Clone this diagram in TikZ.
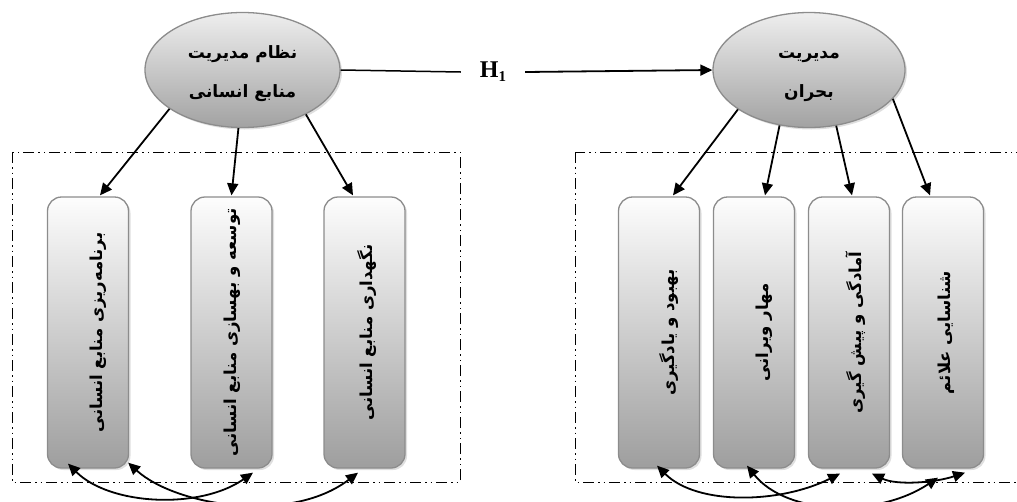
\documentclass[tikz,border=0pt]{standalone}
\usepackage{fontspec}
\setmainfont{DejaVu Sans}
\newfontfamily\fa[Script=Arabic]{DejaVu Sans}
\newfontfamily\timesf{Liberation Serif}
\TeXXeTstate=1
\usetikzlibrary{shapes.geometric,arrows.meta,shadows,calc}
\definecolor{bord}{HTML}{8C8C8C}
\definecolor{elltop}{HTML}{EEEEEE}
\definecolor{ellbot}{HTML}{A2A2A2}
\definecolor{boxtop}{HTML}{FDFDFD}
\definecolor{boxbot}{HTML}{9E9E9E}
\tikzset{
  ell/.style={ellipse, draw=bord, line width=1.3pt, top color=elltop, bottom color=ellbot,
    inner sep=0pt, align=center, font=\fa\bfseries\fontsize{17}{39}\selectfont,
    drop shadow={shadow xshift=2pt, shadow yshift=-2pt, opacity=0.25, fill=gray}},
  dim/.style={rectangle, rounded corners=14pt, draw=bord, line width=1.3pt,
    top color=boxtop, bottom color=boxbot, minimum width=81pt, minimum height=271pt,
    inner sep=0pt, font=\fa\bfseries\fontsize{16.5}{18}\selectfont,
    drop shadow={shadow xshift=2pt, shadow yshift=-2pt, opacity=0.25, fill=gray}},
  frame/.style={draw=black, line width=1pt,
    dash pattern=on 11pt off 4pt on 1.5pt off 4pt on 1.5pt off 4pt},
  arr/.style={line width=1.8pt, -{Triangle[length=12pt,width=11pt]}},
  dbl/.style={line width=1.8pt, {Triangle[length=12pt,width=11pt]}-{Triangle[length=12pt,width=11pt]}},
  plain/.style={line width=1.5pt},
}
\begin{document}
\begin{tikzpicture}[x=1pt,y=-1pt]
\useasboundingbox (0,0) rectangle (1017,501);
\clip (0,0) rectangle (1017,501);

% dashed frames
\draw[frame] (12,152) rectangle (460,482);
\draw[frame] (575,152) rectangle (1030,482);

% ellipses
\node[ell, minimum width=195pt, minimum height=115pt] (e1) at (242.5,70)
  {\raisebox{-14pt}{\begin{tabular}{@{}c@{}}\beginR نظام مدیریت\endR\\\beginR منابع انسانی\endR\end{tabular}}};
\node[ell, minimum width=192pt, minimum height=115pt] (e2) at (809,70)
  {\raisebox{-14pt}{\begin{tabular}{@{}c@{}}\beginR مدیریت\endR\\\beginR بحران\endR\end{tabular}}};

% H1
\node[inner sep=0pt, minimum width=64pt, font=\timesf\bfseries\fontsize{24}{26}\selectfont] (h) at (493,72)
  {H\raisebox{-4pt}{\fontsize{15}{15}\selectfont 1}};
\draw[plain] (e1.east) -- (h.west);
\draw[arr] (h.east) -- (e2.west);

% left boxes
\node[dim] (r1) at (88,332.5) {\hspace*{20pt}\rotatebox{90}{\beginR برنامه‌ریزی منابع انسانی\endR}};
\node[dim] (r2) at (231.5,332.5) {\hspace*{2pt}\rotatebox{90}{\beginR توسعه و بهسازی منابع انسانی\endR}};
\node[dim] (r3) at (364.5,332.5) {\hspace*{5pt}\rotatebox{90}{\beginR نگهداری منابع انسانی\endR}};

% right boxes
\node[dim] (r4) at (659,332.5) {\hspace*{20pt}\rotatebox{90}{\beginR بهبود و یادگیری\endR}};
\node[dim] (r5) at (754,332.5) {\hspace*{20pt}\rotatebox{90}{\beginR مهار ویرانی\endR}};
\node[dim] (r6) at (849,332.5) {\hspace*{14pt}\rotatebox{90}{\beginR آمادگی و پیش گیری\endR}};
\node[dim] (r7) at (943,332.5) {\hspace*{6pt}\rotatebox{90}{\beginR شناسایی علائم\endR}};

% arrows from ellipses
\draw[arr] (e1.208) -- ($(r1.north)+(12,-1)$);
\draw[arr] (e1.266) -- ($(r2.north)+(0,-1)$);
\draw[arr] (e1.325) -- ($(r3.north)+(-11.5,-1)$);

\draw[arr] (e2.209) -- ($(r4.north)+(14,-1)$);
\draw[arr] (e2.242) -- ($(r5.north)+(11,-1)$);
\draw[arr] (e2.296) -- ($(r6.north)+(3,-1)$);
\draw[arr] (e2.341) -- ($(r7.north)+(-13,-1)$);

% bottom double arrows (left)
\draw[dbl] ($(r1.south)+(-20,-5)$) .. controls +(42,42) and +(-53,37) .. ($(r2.south)+(21.5,4)$);
\draw[dbl] ($(r1.south east)+(-1,-6)$) .. controls +(47,43) and +(-68,52) .. ($(r3.south)+(-6.5,4)$);

% bottom double arrows (right)
\draw[dbl] ($(r4.south)+(-2,-3)$) .. controls +(40,40) and +(-60,30) .. ($(r6.south)+(-9,5)$);
\draw[dbl] ($(r5.south)+(-7,-3)$) .. controls +(40,50) and +(-60,40) .. ($(r7.south)+(-5,9)$);
\draw[dbl] ($(r6.south)+(23,5)$) .. controls +(25,12) and +(-30,10) .. ($(r7.south)+(22,4)$);
\end{tikzpicture}
\end{document}
